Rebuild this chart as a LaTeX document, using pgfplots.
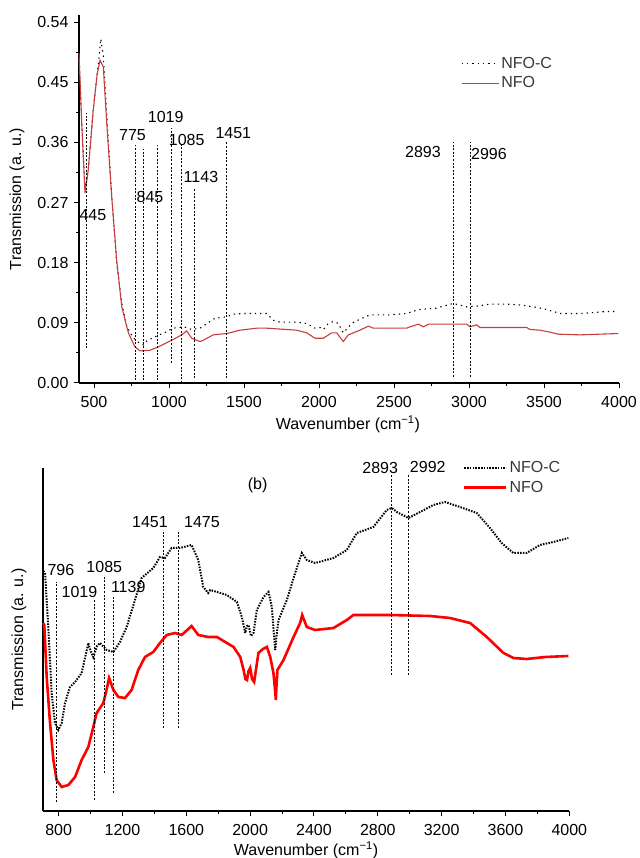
\documentclass[border=0pt]{standalone}
\usepackage{fontspec}
\setmainfont{Liberation Sans}
\usepackage{pgfplots}
\pgfplotsset{compat=1.18}
\definecolor{redA}{RGB}{198,62,62}
\definecolor{txt}{RGB}{55,55,55}

\pgfplotsset{
  ftir/.style={
    scale only axis, anchor=south west, clip=false,
    axis lines=left, axis line style={-},
    tick align=outside, major tick length=5pt, minor tick length=3pt,
    every tick/.style={black, line width=1pt},
    /pgf/number format/1000 sep={},
    /pgf/number format/assume math mode=true,
    font=\fontsize{16}{19}\selectfont,
    every node/.append style={text=txt},
    xticklabel style={yshift=-5pt},
    legend cell align=left,
    legend style={draw=none, fill=none, anchor=north west, row sep=3pt,
      font=\fontsize{16}{19}\selectfont, text=txt},
  },
  peak/.style={black, line width=1pt, dash pattern=on 2pt off 1.6pt, forget plot},
}

\begin{document}
\begin{tikzpicture}[x=1pt,y=1pt]
\useasboundingbox (0,0) rectangle (639,858);

% (a) upper panel
\begin{axis}[ftir,
  at={(79pt,475pt)}, width=540pt, height=368pt,
  xmin=400, xmax=4000, ymin=0, ymax=0.5505,
  axis line style={line width=1.3pt},
  xtick={500,1000,...,4000}, minor x tick num=1,
  ytick={0,0.09,0.18,0.27,0.36,0.45,0.54}, minor y tick num=1,
  yticklabel style={xshift=-2pt, /pgf/number format/.cd, fixed, fixed zerofill, precision=2},
  xlabel={Wavenumber (cm\textsuperscript{−1})},
  ylabel={Transmission (a. u.)},
  xlabel style={at={(axis description cs:0.498,-0.112)}, anchor=center},
  ylabel style={at={(axis description cs:-0.115,0.5)}, anchor=center},
  legend style={at={(0.702,0.897)}},
  legend image code/.code={\draw[#1] (0pt,0pt) -- (37pt,0pt);},
]
\addplot[black, line width=1.1pt, dash pattern=on 1.3pt off 4pt] coordinates {
(400,0.49)(418,0.39)(440,0.29)(462,0.32)(495,0.41)(530,0.48)(545,0.515)
(562,0.49)(585,0.40)(618,0.28)(651,0.18)(685,0.12)(718,0.085)(760,0.068)
(800,0.060)(829,0.057)(860,0.065)(895,0.067)(930,0.072)(962,0.074)(1000,0.079)
(1029,0.082)(1060,0.083)(1100,0.084)(1150,0.080)(1207,0.082)(1260,0.090)
(1307,0.097)(1385,0.099)(1429,0.103)(1500,0.104)(1573,0.104)(1651,0.104)
(1696,0.094)(1740,0.091)(1851,0.091)(1918,0.089)(1973,0.082)(2007,0.083)
(2029,0.080)(2062,0.089)(2095,0.092)(2129,0.089)(2162,0.075)(2218,0.089)
(2240,0.092)(2340,0.102)(2407,0.102)(2473,0.102)(2584,0.104)(2640,0.108)
(2673,0.110)(2784,0.112)(2829,0.115)(2895,0.119)(2929,0.117)(2984,0.114)
(3051,0.115)(3140,0.118)(3251,0.118)(3329,0.117)(3429,0.114)(3496,0.111)
(3562,0.107)(3607,0.104)(3751,0.104)(3918,0.107)(3984,0.107)};
\addlegendentry{NFO-C}
\addplot[redA, line width=1.1pt] coordinates {
(400,0.493)(418,0.389)(440,0.284)(462,0.319)(495,0.408)(520,0.460)(540,0.483)
(562,0.473)(585,0.389)(618,0.279)(651,0.184)(685,0.114)(729,0.075)(773,0.054)
(807,0.048)(873,0.049)(929,0.054)(1018,0.064)(1085,0.072)(1118,0.078)
(1151,0.067)(1207,0.062)(1229,0.064)(1295,0.072)(1385,0.074)(1473,0.079)
(1585,0.082)(1651,0.082)(1851,0.079)(1918,0.075)(1973,0.067)(2029,0.067)
(2084,0.075)(2118,0.075)(2162,0.062)(2195,0.072)(2273,0.079)(2329,0.085)
(2362,0.082)(2584,0.082)(2607,0.084)(2662,0.088)(2696,0.084)(2729,0.088)
(2985,0.088)(3007,0.084)(3051,0.087)(3073,0.083)(3385,0.083)(3407,0.080)
(3473,0.079)(3540,0.076)(3596,0.073)(3740,0.072)(3995,0.074)};
\addlegendentry{NFO}
% marked bands
\addplot[peak] coordinates {(447,0.052)(447,0.404)};
\addplot[peak] coordinates {(778,0.004)(778,0.356)};
\addplot[peak] coordinates {(833,0.004)(833,0.350)};
\addplot[peak] coordinates {(924,0.004)(924,0.356)};
\addplot[peak] coordinates {(1018,0.030)(1018,0.381)};
\addplot[peak] coordinates {(1085,0.000)(1085,0.356)};
\addplot[peak] coordinates {(1167,0.007)(1167,0.292)};
\addplot[peak] coordinates {(1385,0.007)(1385,0.360)};
\addplot[peak] coordinates {(2895,0.009)(2895,0.361)};
\addplot[peak] coordinates {(3007,0.009)(3007,0.361)};
\node at (axis cs:493,0.251) {445};
\node at (axis cs:757,0.371) {775};
\node at (axis cs:873,0.278) {845};
\node at (axis cs:978,0.398) {1019};
\node at (axis cs:1118,0.363) {1085};
\node at (axis cs:1213,0.308) {1143};
\node at (axis cs:1429,0.374) {1451};
\node at (axis cs:2693,0.346) {2893};
\node at (axis cs:3133,0.343) {2996};
\end{axis}

% (b) lower panel
\begin{axis}[ftir,
  at={(42.7pt,47pt)}, width=526.6pt, height=343pt,
  xmin=700, xmax=4000, ymin=0, ymax=343,
  axis line style={line width=2.2pt},
  xtick={800,1200,...,4000}, minor x tick num=1,
  ytick=\empty,
  xlabel={Wavenumber (cm\textsuperscript{−1})},
  ylabel={Transmission (a. u.)},
  xlabel style={at={(axis description cs:0.5,-0.114)}, anchor=center},
  ylabel style={at={(axis description cs:-0.045,0.5)}, anchor=center},
  legend style={at={(0.792,1.032)}},
  legend image code/.code={\draw[#1] (0pt,0pt) -- (42pt,0pt);},
]
\addplot[black, line width=2pt, dash pattern=on 1.5pt off 1.3pt] coordinates {
(704,240)(715,238)(725,210)(735,184)(756,118)(777,88)(798,81)(819,88)(840,108)
(871,124)(903,129)(944,138)(975,160)(986,168)(1000,160)(1017,154)(1040,165)
(1059,168)(1101,161)(1143,159)(1184,169)(1226,184)(1278,211)(1320,233)
(1393,243)(1435,254)(1466,253)(1508,263)(1560,263)(1633,266)(1675,251)
(1706,224)(1737,218)(1750,221)(1854,216)(1917,209)(1948,194)(1969,178)
(1980,185)(1990,186)(2005,175)(2021,178)(2042,201)(2084,214)(2115,219)
(2136,204)(2150,175)(2157,161)(2165,175)(2178,191)(2230,211)(2282,238)
(2324,258)(2355,251)(2407,248)(2522,253)(2606,261)(2668,278)(2772,284)
(2856,301)(2888,303)(2919,299)(2992,293)(3065,299)(3148,306)(3221,309)
(3315,304)(3420,298)(3503,283)(3576,268)(3649,258)(3733,258)(3816,266)
(3900,269)(3994,273)};
\addlegendentry{NFO-C}
\addplot[red, line width=2.6pt] coordinates {
(702,188)(710,186)(725,134)(746,88)(767,51)(787,31)(819,24)(861,26)(903,34)
(944,51)(986,64)(1017,84)(1038,98)(1080,108)(1100,121)(1116,133)(1143,121)
(1174,114)(1216,113)(1257,121)(1299,141)(1341,154)(1393,159)(1435,168)
(1477,176)(1529,178)(1571,176)(1633,185)(1675,176)(1737,174)(1792,174)
(1896,164)(1938,154)(1959,141)(1970,132)(1980,131)(1990,140)(2000,143)
(2012,132)(2025,129)(2052,158)(2080,162)(2105,164)(2126,154)(2146,138)
(2158,118)(2161,111)(2165,125)(2171,141)(2209,151)(2272,174)(2313,188)
(2326,196)(2355,184)(2407,181)(2522,183)(2606,191)(2647,196)(2877,196)
(3127,195)(3253,193)(3378,188)(3483,174)(3587,158)(3650,153)(3733,152)
(3850,154)(3994,155)};
\addlegendentry{NFO}
\addplot[peak] coordinates {(787,9)(787,229)};
\addplot[peak] coordinates {(1024,11)(1024,211)};
\addplot[peak] coordinates {(1090,38)(1090,236)};
\addplot[peak] coordinates {(1144,18)(1144,216)};
\addplot[peak] coordinates {(1456,83)(1456,281)};
\addplot[peak] coordinates {(1550,83)(1550,281)};
\addplot[peak] coordinates {(2883,136)(2883,336)};
\addplot[peak] coordinates {(2992,136)(2992,336)};
\node at (axis cs:814,241) {796};
\node at (axis cs:930,219) {1019};
\node at (axis cs:1086,244) {1085};
\node at (axis cs:1236,224) {1139};
\node at (axis cs:1372,289) {1451};
\node at (axis cs:1698,289) {1475};
\node at (axis cs:2815,343) {2893};
\node at (axis cs:3113,344) {2992};
\node at (axis cs:2047,326) {(b)};
\end{axis}
\end{tikzpicture}
\end{document}
